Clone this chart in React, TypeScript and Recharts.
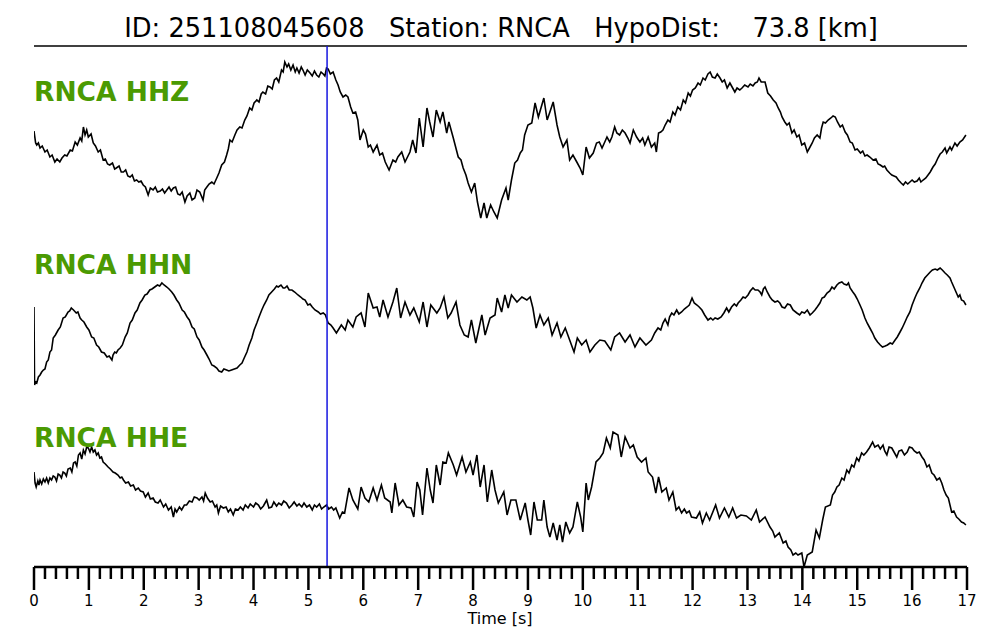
import { LineChart, Line, XAxis, YAxis, ReferenceLine } from 'recharts'

// Header / labels
const titleText = 'ID: 251108045608   Station: RNCA   HypoDist:    73.8 [km]'
const stationLabels = ['RNCA HHZ', 'RNCA HHN', 'RNCA HHE']
const pickTime = 5.34 // P pick [s]

// Time axis
const majorTicks = [0, 1, 2, 3, 4, 5, 6, 7, 8, 9, 10, 11, 12, 13, 14, 15, 16, 17]
const minorPerMajor = 5

// Traces: [time s, normalized amplitude]
const hhzSamples: [number, number][] = [
    [0, 9], [0.03, -3], [0.05, -5], [0.08, -3], [0.11, -8], [0.15, -6], [0.2, -12], [0.24, -10], [0.29, -17], [0.33, -15],
    [0.38, -22], [0.42, -19], [0.47, -22], [0.51, -18], [0.56, -15], [0.6, -16], [0.66, -10], [0.7, -11], [0.75, -2], [0.79, -5],
    [0.84, 2], [0.87, -1], [0.9, 13], [0.93, 5], [0.96, 10], [0.99, 3], [1.04, 6], [1.08, -3], [1.12, -6], [1.17, -12],
    [1.21, -10], [1.26, -20], [1.3, -19], [1.34, -24], [1.38, -25], [1.43, -23], [1.47, -29], [1.5, -28], [1.55, -26], [1.59, -32],
    [1.63, -32], [1.67, -30], [1.71, -36], [1.75, -37], [1.79, -35], [1.83, -41], [1.87, -40], [1.91, -42], [1.95, -41], [1.99, -45],
    [2.03, -47], [2.08, -55], [2.12, -48], [2.17, -50], [2.21, -47], [2.25, -52], [2.3, -51], [2.34, -49], [2.38, -53], [2.42, -50],
    [2.46, -47], [2.5, -51], [2.54, -48], [2.58, -47], [2.62, -54], [2.66, -55], [2.7, -52], [2.75, -62], [2.79, -56], [2.84, -53],
    [2.88, -60], [2.93, -58], [2.97, -50], [3.02, -52], [3.08, -60], [3.11, -50], [3.15, -47], [3.19, -44], [3.24, -42], [3.28, -44],
    [3.33, -38], [3.37, -33], [3.42, -25], [3.47, -22], [3.51, -15], [3.54, -9], [3.57, 0], [3.61, -2], [3.66, 5], [3.7, 10],
    [3.75, 13], [3.79, 12], [3.84, 20], [3.88, 24], [3.93, 32], [3.97, 30], [4.01, 37], [4.06, 40], [4.1, 38], [4.14, 46],
    [4.17, 48], [4.22, 46], [4.26, 54], [4.3, 53], [4.34, 51], [4.38, 60], [4.42, 62], [4.46, 58], [4.51, 70], [4.54, 68],
    [4.57, 78], [4.61, 73], [4.64, 76], [4.68, 70], [4.72, 75], [4.76, 68], [4.79, 72], [4.83, 67], [4.87, 73], [4.9, 70],
    [4.94, 65], [4.98, 70], [5.03, 67], [5.07, 64], [5.11, 69], [5.15, 65], [5.19, 63], [5.23, 68], [5.27, 66], [5.3, 64],
    [5.33, 72], [5.36, 71], [5.4, 66], [5.45, 68], [5.5, 60], [5.54, 55], [5.58, 48], [5.63, 43], [5.68, 45], [5.72, 43],
    [5.77, 33], [5.81, 27], [5.86, 28], [5.9, 20], [5.94, 0], [6.0, 10], [6.04, 6], [6.09, -7], [6.13, -5], [6.18, -12],
    [6.25, -5], [6.3, -15], [6.35, -13], [6.4, -22], [6.47, -30], [6.54, -20], [6.59, -22], [6.63, -17], [6.7, -12], [6.76, -22],
    [6.85, -12], [6.9, 0], [6.96, -13], [7.02, 22], [7.09, -7], [7.16, 32], [7.21, 18], [7.27, 3], [7.33, 30], [7.4, 18],
    [7.45, 28], [7.52, 7], [7.56, 18], [7.64, 2], [7.73, -17], [7.78, -20], [7.82, -28], [7.87, -35], [7.91, -43], [7.97, -52],
    [8.03, -43], [8.08, -62], [8.14, -78], [8.2, -63], [8.25, -78], [8.32, -65], [8.38, -72], [8.44, -78], [8.52, -60], [8.6, -48],
    [8.64, -60], [8.7, -40], [8.76, -23], [8.81, -20], [8.86, -13], [8.9, -10], [8.94, 5], [9.0, 15], [9.07, 17], [9.13, 37],
    [9.19, 23], [9.29, 42], [9.35, 20], [9.4, 28], [9.46, 38], [9.53, 15], [9.58, 3], [9.64, -7], [9.71, 0], [9.76, -20],
    [9.82, -15], [9.89, -22], [9.95, -28], [10.0, -35], [10.06, -7], [10.12, -18], [10.19, -13], [10.25, -3], [10.3, -2], [10.35, -8],
    [10.4, -2], [10.44, 3], [10.49, -2], [10.53, 3], [10.58, 13], [10.62, 7], [10.67, 5], [10.72, 10], [10.77, 7], [10.82, 2],
    [10.86, -3], [10.92, 10], [10.98, 3], [11.04, -2], [11.09, 2], [11.13, -5], [11.19, 3], [11.25, -7], [11.31, -3], [11.34, -12],
    [11.38, 7], [11.42, 8], [11.46, 10], [11.5, 15], [11.55, 20], [11.59, 18], [11.64, 28], [11.68, 25], [11.73, 33], [11.78, 30],
    [11.83, 40], [11.87, 37], [11.92, 47], [11.96, 44], [12.0, 50], [12.05, 52], [12.1, 57], [12.14, 55], [12.19, 62], [12.23, 60],
    [12.28, 66], [12.32, 68], [12.36, 63], [12.41, 62], [12.45, 66], [12.5, 62], [12.54, 58], [12.58, 60], [12.63, 52], [12.68, 57],
    [12.72, 53], [12.77, 48], [12.81, 52], [12.86, 50], [12.9, 52], [12.95, 55], [13.01, 53], [13.05, 56], [13.1, 54], [13.14, 57],
    [13.18, 58], [13.21, 62], [13.25, 58], [13.32, 58], [13.37, 47], [13.42, 44], [13.47, 40], [13.52, 37], [13.56, 32], [13.6, 28],
    [13.63, 23], [13.68, 18], [13.72, 15], [13.76, 17], [13.81, 7], [13.85, 10], [13.9, 3], [13.94, 5], [13.99, -5], [14.04, -3],
    [14.09, -12], [14.13, -8], [14.18, -3], [14.22, 2], [14.27, 5], [14.32, 2], [14.35, 12], [14.38, 18], [14.42, 17], [14.47, 20],
    [14.52, 22], [14.56, 24], [14.6, 23], [14.64, 18], [14.69, 13], [14.73, 15], [14.78, 8], [14.82, 5], [14.87, -2], [14.91, -3],
    [14.96, -10], [15.0, -9], [15.06, -13], [15.1, -11], [15.14, -16], [15.18, -15], [15.23, -17], [15.29, -20], [15.34, -19], [15.38, -24],
    [15.42, -25], [15.47, -27], [15.5, -26], [15.54, -30], [15.59, -33], [15.63, -35], [15.67, -36], [15.71, -37], [15.75, -40], [15.8, -43],
    [15.84, -45], [15.88, -42], [15.92, -44], [15.96, -42], [16.0, -40], [16.04, -42], [16.09, -41], [16.13, -38], [16.16, -42], [16.2, -40],
    [16.25, -38], [16.29, -35], [16.33, -32], [16.38, -27], [16.42, -24], [16.47, -18], [16.51, -14], [16.55, -12], [16.6, -8], [16.63, -13],
    [16.69, -7], [16.72, -10], [16.78, -3], [16.82, -6], [16.87, -2], [16.92, 0], [16.98, 5],
]

const hhnSamples: [number, number][] = [
    [0, 18], [0.01, -60], [0.03, -57], [0.05, -58], [0.08, -52], [0.11, -50], [0.14, -47], [0.17, -45], [0.2, -44], [0.23, -37],
    [0.26, -35], [0.29, -27], [0.32, -25], [0.35, -13], [0.39, -10], [0.44, -5], [0.48, -2], [0.53, 7], [0.57, 8], [0.62, 13],
    [0.65, 14], [0.68, 17], [0.72, 15], [0.77, 12], [0.8, 13], [0.84, 7], [0.87, 5], [0.91, 3], [0.96, -2], [1.0, -5],
    [1.05, -12], [1.09, -13], [1.14, -20], [1.18, -22], [1.23, -27], [1.28, -28], [1.33, -32], [1.37, -31], [1.42, -35], [1.44, -30],
    [1.47, -27], [1.5, -28], [1.53, -25], [1.57, -23], [1.61, -20], [1.66, -12], [1.7, -8], [1.75, 2], [1.79, 5], [1.84, 12],
    [1.88, 15], [1.93, 22], [1.97, 25], [2.02, 30], [2.06, 31], [2.11, 35], [2.15, 36], [2.2, 38], [2.25, 40], [2.29, 39],
    [2.33, 42], [2.37, 40], [2.42, 38], [2.46, 36], [2.51, 33], [2.55, 30], [2.6, 25], [2.64, 22], [2.7, 15], [2.74, 13],
    [2.79, 8], [2.83, 5], [2.88, -2], [2.92, -4], [2.97, -12], [3.01, -15], [3.06, -22], [3.1, -25], [3.15, -30], [3.19, -34],
    [3.24, -40], [3.28, -41], [3.33, -43], [3.37, -46], [3.42, -47], [3.46, -44], [3.51, -45], [3.55, -46], [3.6, -45], [3.65, -44],
    [3.7, -43], [3.75, -40], [3.79, -38], [3.83, -33], [3.88, -27], [3.92, -20], [3.97, -13], [4.01, -5], [4.06, 2], [4.1, 8],
    [4.15, 15], [4.19, 20], [4.24, 25], [4.28, 30], [4.33, 33], [4.38, 36], [4.42, 39], [4.45, 38], [4.5, 40], [4.54, 37],
    [4.57, 37], [4.61, 39], [4.65, 35], [4.7, 35], [4.75, 33], [4.81, 30], [4.86, 28], [4.9, 26], [4.94, 25], [4.99, 20],
    [5.03, 21], [5.07, 18], [5.12, 15], [5.18, 13], [5.22, 11], [5.27, 12], [5.31, 10], [5.36, 2], [5.41, 0], [5.45, -3],
    [5.51, -8], [5.6, 0], [5.67, -5], [5.72, 5], [5.81, -2], [5.87, 8], [5.96, 12], [6.03, -2], [6.09, 32], [6.18, 17],
    [6.25, 18], [6.3, 8], [6.36, 25], [6.45, 8], [6.54, 23], [6.61, 37], [6.68, 7], [6.76, 23], [6.85, 10], [6.92, 17],
    [7.02, 3], [7.09, 23], [7.16, -2], [7.23, 20], [7.34, 12], [7.4, 17], [7.47, 28], [7.54, 7], [7.6, 12], [7.69, 23],
    [7.76, 0], [7.84, -10], [7.91, -12], [7.97, 5], [8.05, -18], [8.16, 10], [8.22, -10], [8.31, 7], [8.4, 10], [8.44, 27],
    [8.52, 13], [8.58, 30], [8.64, 17], [8.7, 30], [8.8, 23], [8.89, 28], [8.98, 25], [9.04, 28], [9.09, 17], [9.15, -3],
    [9.22, 10], [9.29, 0], [9.37, 7], [9.44, -10], [9.53, 2], [9.6, -12], [9.68, -3], [9.76, -15], [9.84, -27], [9.9, -13],
    [9.98, -20], [10.06, -15], [10.13, -27], [10.22, -20], [10.31, -15], [10.4, -16], [10.51, -25], [10.58, -12], [10.67, -8], [10.77, -17],
    [10.86, -10], [10.95, -22], [11.04, -13], [11.15, -20], [11.25, -15], [11.31, -8], [11.37, -3], [11.42, -5], [11.46, 2], [11.5, 6],
    [11.55, 0], [11.58, 8], [11.62, 12], [11.66, 10], [11.71, 15], [11.75, 11], [11.8, 13], [11.85, 16], [11.9, 18], [11.94, 20],
    [11.99, 27], [12.03, 22], [12.08, 20], [12.12, 18], [12.17, 15], [12.22, 10], [12.28, 5], [12.33, 7], [12.37, 5], [12.41, 7],
    [12.46, 6], [12.52, 8], [12.57, 12], [12.62, 17], [12.66, 13], [12.71, 18], [12.76, 21], [12.8, 19], [12.83, 22], [12.88, 25],
    [12.92, 28], [12.96, 27], [13.01, 30], [13.05, 34], [13.1, 37], [13.14, 35], [13.19, 35], [13.23, 33], [13.26, 30], [13.29, 36],
    [13.32, 38], [13.36, 33], [13.41, 28], [13.45, 25], [13.5, 23], [13.55, 24], [13.59, 22], [13.63, 18], [13.68, 17], [13.73, 21],
    [13.78, 20], [13.83, 15], [13.9, 12], [13.95, 10], [13.99, 13], [14.04, 12], [14.09, 15], [14.14, 10], [14.18, 12], [14.23, 15],
    [14.27, 18], [14.32, 22], [14.36, 27], [14.4, 28], [14.45, 32], [14.5, 34], [14.54, 38], [14.58, 36], [14.63, 40], [14.67, 42],
    [14.72, 43], [14.76, 41], [14.81, 40], [14.84, 42], [14.87, 37], [14.92, 33], [14.96, 30], [15.0, 26], [15.05, 20], [15.09, 15],
    [15.14, 7], [15.18, 2], [15.23, -3], [15.28, -8], [15.32, -13], [15.37, -17], [15.42, -20], [15.46, -22], [15.51, -21], [15.55, -20],
    [15.6, -18], [15.64, -19], [15.69, -15], [15.73, -12], [15.78, -7], [15.82, -3], [15.87, 3], [15.91, 8], [15.96, 13], [16.0, 20],
    [16.05, 27], [16.09, 32], [16.14, 37], [16.18, 42], [16.23, 47], [16.28, 50], [16.33, 53], [16.37, 55], [16.42, 56], [16.46, 55],
    [16.51, 57], [16.55, 55], [16.6, 52], [16.64, 50], [16.69, 47], [16.72, 43], [16.76, 38], [16.8, 33], [16.84, 28], [16.87, 30],
    [16.9, 25], [16.94, 24], [16.98, 20],
]

const hheSamples: [number, number][] = [
    [0, 23], [0.02, 12], [0.04, 8], [0.07, 14], [0.09, 10], [0.11, 15], [0.14, 11], [0.17, 16], [0.2, 13], [0.23, 17],
    [0.26, 12], [0.29, 17], [0.32, 15], [0.35, 19], [0.38, 18], [0.41, 14], [0.44, 21], [0.47, 20], [0.5, 17], [0.53, 23],
    [0.56, 22], [0.59, 19], [0.62, 26], [0.66, 27], [0.69, 23], [0.72, 32], [0.75, 33], [0.78, 29], [0.81, 40], [0.84, 42],
    [0.87, 36], [0.9, 45], [0.93, 41], [0.96, 48], [0.99, 47], [1.02, 43], [1.05, 48], [1.08, 43], [1.11, 45], [1.14, 40],
    [1.17, 42], [1.2, 37], [1.23, 38], [1.26, 33], [1.3, 31], [1.35, 28], [1.39, 26], [1.44, 23], [1.48, 22], [1.53, 20],
    [1.57, 17], [1.6, 18], [1.63, 15], [1.67, 12], [1.72, 13], [1.76, 9], [1.81, 10], [1.85, 5], [1.9, 7], [1.94, 4],
    [1.99, 3], [2.03, -2], [2.08, 2], [2.12, -4], [2.17, -3], [2.21, -7], [2.26, -8], [2.3, -5], [2.36, -12], [2.4, -9],
    [2.45, -15], [2.5, -12], [2.54, -22], [2.57, -14], [2.6, -17], [2.65, -12], [2.69, -15], [2.74, -10], [2.78, -10], [2.83, -6],
    [2.88, -7], [2.92, -2], [2.97, -3], [3.01, -5], [3.06, -2], [3.09, -6], [3.12, 2], [3.16, -3], [3.21, -7], [3.25, -6],
    [3.3, -12], [3.33, -10], [3.36, -18], [3.4, -11], [3.45, -13], [3.5, -12], [3.54, -17], [3.58, -14], [3.63, -20], [3.67, -14],
    [3.72, -15], [3.76, -12], [3.81, -15], [3.85, -10], [3.9, -13], [3.94, -9], [4.0, -12], [4.04, -8], [4.09, -10], [4.13, -14],
    [4.18, -11], [4.21, -8], [4.24, -5], [4.28, -13], [4.33, -12], [4.37, -7], [4.42, -11], [4.46, -8], [4.51, -10], [4.55, -6],
    [4.6, -8], [4.65, -13], [4.7, -10], [4.74, -7], [4.79, -11], [4.83, -9], [4.88, -12], [4.92, -8], [4.97, -12], [5.02, -10],
    [5.07, -15], [5.11, -10], [5.15, -12], [5.2, -9], [5.24, -14], [5.28, -12], [5.33, -10], [5.37, -14], [5.42, -12], [5.46, -15],
    [5.5, -13], [5.57, -23], [5.62, -17], [5.66, -18], [5.74, 7], [5.81, -5], [5.9, -14], [5.96, 8], [6.03, -3], [6.1, -7],
    [6.18, 7], [6.25, -5], [6.33, 10], [6.39, -3], [6.49, -7], [6.52, -18], [6.58, 12], [6.65, -10], [6.72, -5], [6.79, -12],
    [6.87, -13], [6.92, -22], [6.98, 13], [7.03, 5], [7.08, -20], [7.16, 27], [7.22, 5], [7.27, -8], [7.33, 30], [7.4, 10],
    [7.45, 33], [7.51, 32], [7.55, 42], [7.64, 30], [7.7, 20], [7.8, 38], [7.87, 23], [7.95, 33], [8.0, 20], [8.07, 40],
    [8.13, 8], [8.2, 30], [8.26, -7], [8.34, 25], [8.4, 5], [8.46, -8], [8.56, 3], [8.62, -20], [8.69, -5], [8.78, -5],
    [8.86, -25], [8.95, -8], [9.0, -25], [9.05, -40], [9.11, -7], [9.17, -25], [9.25, -25], [9.29, -5], [9.35, -32], [9.4, -42],
    [9.46, -28], [9.53, -45], [9.58, -30], [9.63, -47], [9.69, -27], [9.76, -38], [9.82, -32], [9.9, -7], [9.96, -22], [10.0, -37],
    [10.06, 12], [10.1, -5], [10.16, 8], [10.24, 33], [10.31, 37], [10.37, 42], [10.43, 57], [10.5, 47], [10.55, 63], [10.64, 60],
    [10.7, 38], [10.77, 58], [10.86, 47], [10.92, 50], [10.99, 38], [11.07, 33], [11.15, 37], [11.19, 23], [11.27, 18], [11.33, 2],
    [11.38, 18], [11.44, 3], [11.52, 7], [11.57, -5], [11.64, 3], [11.7, -15], [11.75, -12], [11.8, -18], [11.85, -14], [11.89, -18],
    [11.94, -16], [11.98, -22], [12.07, -23], [12.13, -17], [12.18, -28], [12.25, -18], [12.31, -25], [12.42, -10], [12.49, -23], [12.58, -13],
    [12.66, -22], [12.73, -13], [12.8, -23], [12.88, -20], [12.98, -21], [13.07, -25], [13.16, -15], [13.22, -27], [13.32, -22], [13.41, -32],
    [13.46, -36], [13.5, -42], [13.58, -38], [13.65, -48], [13.7, -46], [13.74, -52], [13.79, -55], [13.83, -60], [13.88, -58], [13.92, -60],
    [13.99, -58], [14.03, -72], [14.09, -60], [14.18, -57], [14.25, -35], [14.31, -43], [14.37, -25], [14.42, -12], [14.51, -10], [14.55, 0],
    [14.59, 3], [14.63, 8], [14.67, 10], [14.72, 17], [14.76, 15], [14.81, 25], [14.85, 22], [14.9, 30], [14.94, 28], [14.99, 37],
    [15.03, 34], [15.08, 42], [15.12, 40], [15.17, 43], [15.22, 47], [15.28, 53], [15.32, 48], [15.38, 50], [15.42, 46], [15.47, 50],
    [15.5, 44], [15.54, 40], [15.58, 48], [15.63, 47], [15.67, 43], [15.72, 38], [15.76, 44], [15.81, 45], [15.86, 40], [15.91, 43],
    [15.95, 48], [16.0, 47], [16.04, 44], [16.09, 42], [16.13, 43], [16.18, 38], [16.22, 35], [16.27, 28], [16.31, 30], [16.36, 22],
    [16.4, 20], [16.45, 15], [16.5, 17], [16.54, 12], [16.58, 5], [16.62, 0], [16.66, -3], [16.72, -17], [16.76, -16], [16.81, -22],
    [16.85, -24], [16.9, -27], [16.94, -28], [16.98, -30],
]

// vertical stacking of the three components
const traceOffsets = [427, 242, 72]
const yTop = 521

const traces = [hhzSamples, hhnSamples, hheSamples].map((samples, i) =>
    samples.map(([t, a]) => ({ t, v: traceOffsets[i] + a }))
)

const allTicks = majorTicks.flatMap((m, i) =>
    i === majorTicks.length - 1
        ? [m]
        : Array.from({ length: minorPerMajor }, (_, k) => Math.round((m + k / minorPerMajor) * 100) / 100)
)

const font = '"DejaVu Sans", sans-serif'
const labelGreen = '#4b9a02'

function TimeTick(props: any) {
    const { x, y, payload } = props
    const v = payload.value
    const isMajor = Math.abs(v - Math.round(v)) < 1e-6
    return (
        <g>
            <line x1={x} x2={x} y1={y} y2={y + (isMajor ? 23 : 12)} stroke="#000" strokeWidth={2.5} />
            {isMajor && (
                <text x={x} y={y + 39} textAnchor="middle" fontSize={15} fontFamily={font} fill="#000">
                    {v}
                </text>
            )}
        </g>
    )
}

export default function App() {
    return (
        <div style={{ position: 'absolute', left: 0, top: 0, width: 1000, height: 640, background: '#fff' }}>
            <LineChart width={1000} height={640} margin={{ top: 46, right: 33, bottom: 13, left: 34 }}>
                <XAxis
                    dataKey="t"
                    type="number"
                    domain={[0, 17]}
                    ticks={allTicks}
                    interval={0}
                    height={60}
                    tickSize={0}
                    tickMargin={0}
                    tickLine={false}
                    axisLine={{ stroke: '#000', strokeWidth: 2.5 }}
                    tick={<TimeTick />}
                    allowDataOverflow
                />
                <YAxis type="number" domain={[0, yTop]} hide allowDataOverflow />
                <ReferenceLine y={yTop} stroke="#000" strokeWidth={1.5} ifOverflow="visible" />
                {traces.map((data, i) => (
                    <Line
                        key={stationLabels[i]}
                        data={data}
                        dataKey="v"
                        type="linear"
                        stroke="#000"
                        strokeWidth={1.6}
                        dot={false}
                        isAnimationActive={false}
                    />
                ))}
                <ReferenceLine x={pickTime} stroke="#1515e0" strokeWidth={1.5} ifOverflow="visible" />
            </LineChart>
            <svg width={1000} height={640} style={{ position: 'absolute', left: 0, top: 0, pointerEvents: 'none' }}>
                <text x={501} y={37} textAnchor="middle" fontSize={25.7} fontFamily={font} fill="#000" style={{ whiteSpace: 'pre' }}>
                    {titleText}
                </text>
                {stationLabels.map((s, i) => (
                    <text key={s} x={34} y={[101, 274, 447][i]} fontSize={26.5} fontWeight="bold" fontFamily={font} fill={labelGreen}>
                        {s}
                    </text>
                ))}
                <text x={500} y={624} textAnchor="middle" fontSize={16} fontFamily={font} fill="#000">
                    Time [s]
                </text>
            </svg>
        </div>
    )
}
